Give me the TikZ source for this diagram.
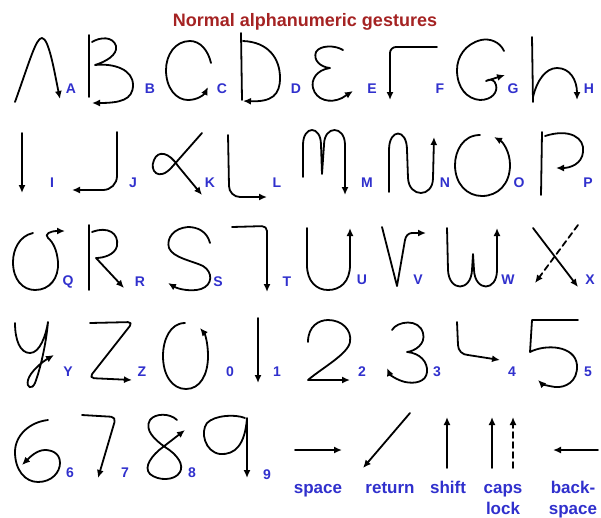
\documentclass[tikz,border=0pt]{standalone}
\usepackage{fontspec}
\setmainfont{Liberation Sans}
\usetikzlibrary{arrows.meta}
\definecolor{lblblue}{RGB}{48,48,205}
\definecolor{titlered}{RGB}{165,35,35}
\begin{document}
\begin{tikzpicture}[x=1pt,y=-1pt,
  stroke/.style={line width=1.8pt, line cap=round, line join=round, -{Latex[length=8pt,width=7pt]}},
  plain/.style={line width=1.8pt, line cap=round},
  lbl/.style={text=lblblue, font=\bfseries\fontsize{14}{14}\selectfont, inner sep=0pt},
  word/.style={text=lblblue, font=\bfseries\fontsize{17}{17}\selectfont, inner sep=0pt},
  ttl/.style={text=titlered, font=\bfseries\fontsize{18}{18}\selectfont, inner sep=0pt}]
\fill[white] (0,0) rectangle (601,517);
\useasboundingbox (0,0) rectangle (601,517);
\node[ttl] (title) at (305,22) {Normal alphanumeric gestures};
% ---- row 1 ----
% A
\draw[stroke] (15,102) .. controls (30,60) and (36,38) .. (42,38) .. controls (49,38) and (55,75) .. (60,99);
% B
\draw[plain] (89,35) -- (89,97);
\draw[stroke] (92,42) .. controls (100,37) and (113,36) .. (116,46) .. controls (118,55) and (105,62) .. (95,65)
  .. controls (115,63) and (133,70) .. (133,85) .. controls (133,100) and (120,103) .. (92,103);
% C
\draw[stroke] (211,63) .. controls (208,50) and (200,41) .. (190,41) .. controls (175,41) and (166,55) .. (166,70)
  .. controls (166,88) and (176,100) .. (188,100) .. controls (197,100) and (204,95) .. (208,87);
% D
\draw[plain] (241,33) -- (242,100);
\draw[stroke] (243,41) .. controls (268,42) and (280,58) .. (280,78) .. controls (280,95) and (272,102) .. (243,101);
% E
\draw[stroke] (343,50) .. controls (335,45) and (320,45) .. (316,52) .. controls (313,60) and (320,67) .. (330,68)
  .. controls (316,70) and (311,80) .. (313,88) .. controls (316,100) and (330,104) .. (342,98) -- (353,91);
% F
\draw[stroke, rounded corners=6pt] (437,47) -- (390,47) -- (390,100);
% G
\draw[stroke] (504,51) .. controls (500,42) and (490,38) .. (481,40) .. controls (465,44) and (457,57) .. (457,70)
  .. controls (457,88) and (467,99) .. (480,100) .. controls (492,100) and (498,92) .. (496,85)
  .. controls (495,80) and (490,78) .. (486,81) -- (505,75);
% H
\draw[plain] (532,37) -- (533,102);
\draw[stroke] (533,97) .. controls (537,80) and (546,68) .. (557,68) .. controls (570,68) and (577,80) .. (577,100);
% ---- row 2 ----
\draw[stroke] (22,133) -- (22,193);
\draw[stroke] (117,132) -- (117,176) to[out=-90,in=0] (103,190) -- (72,190);
\draw[stroke] (202,133) -- (172,167) .. controls (159,182) and (149,171) .. (154,160)
  .. controls (158,150) and (169,152) .. (178,166) -- (202,195);
\draw[stroke] (228,135) -- (229,186) to[out=-90,in=180] (240,197) -- (267,197);
% M
\draw[stroke] (303,177) -- (303,145) .. controls (303,125) and (321,125) .. (321,145) -- (322,174)
  -- (324,145) .. controls (324,125) and (345,125) .. (345,145) -- (345,195);
% N
\draw[stroke] (389,192) -- (389,150) .. controls (389,128) and (407,128) .. (407,150) -- (408,178)
  .. controls (409,198) and (433,198) .. (433,178) -- (434,137);
% O
\draw[stroke] (480,135) .. controls (463,135) and (455,151) .. (455,165) .. controls (455,184) and (467,196) .. (482,196)
  .. controls (498,196) and (510,184) .. (510,165) .. controls (510,152) and (503,142) .. (494,137);
% P
\draw[plain] (542,132) -- (541,195);
\draw[stroke] (545,136) .. controls (570,128) and (585,138) .. (583,152) .. controls (582,164) and (570,168) .. (556,168);
% ---- row 3 ----
% Q
\draw[stroke] (33,233) .. controls (19,236) and (13,250) .. (13,262) .. controls (13,280) and (23,290) .. (35,290)
  .. controls (50,290) and (59,278) .. (58,262) .. controls (57,250) and (53,242) .. (48,238)
  .. controls (44,234) and (50,231) .. (65,231);
% R
\draw[plain] (89,225) -- (89,290);
\draw[stroke] (92,232) .. controls (108,226) and (119,233) .. (117,246) .. controls (115,255) and (103,258) .. (96,258) -- (124,288);
% S
\draw[stroke] (210,243) .. controls (207,231) and (197,227) .. (188,227) .. controls (174,228) and (166,238) .. (169,248)
  .. controls (173,258) and (193,261) .. (203,266) .. controls (213,272) and (213,285) .. (201,289)
  .. controls (191,292) and (178,289) .. (168,283);
% T
\draw[stroke, rounded corners=5pt] (232,227) -- (267,226) -- (267,292);
% U
\draw[stroke] (307,228) -- (307,265) .. controls (307,282) and (317,290) .. (328,290)
  .. controls (340,290) and (350,282) .. (350,265) -- (350,228);
% V
\draw[stroke] (382,227) -- (397,286) -- (405,240) to[out=80,in=180] (412,233) -- (426,233);
% W
\draw[stroke] (447,228) -- (448,270) .. controls (449,292) and (471,292) .. (472,270) -- (473,254)
  -- (474,270) .. controls (475,292) and (497,292) .. (497,270) -- (497,228);
% X
\draw[stroke] (533,228) -- (578,287);
\draw[stroke, dashed, dash pattern=on 6pt off 4pt] (578,225) -- (535,283);
% ---- row 4 ----
% Y
\draw[stroke] (15,323) .. controls (15,340) and (20,353) .. (30,353) .. controls (40,353) and (46,335) .. (48,322)
  .. controls (46,345) and (40,370) .. (35,383) .. controls (32,390) and (26,388) .. (28,380)
  .. controls (30,372) and (42,362) .. (54,355);
% Z
\draw[stroke, rounded corners=5pt] (90,323) -- (133,322) -- (89,378) -- (132,380);
% 0
\draw[stroke] (185,323) .. controls (170,323) and (163,340) .. (163,356) .. controls (163,375) and (172,389) .. (186,389)
  .. controls (200,389) and (208,375) .. (208,356) .. controls (208,343) and (205,334) .. (200,328);
% 1
\draw[stroke] (258,318) -- (258,383);
% 2
\draw[stroke] (308,342) .. controls (308,326) and (319,320) .. (328,320) .. controls (342,320) and (352,330) .. (350,342)
  .. controls (348,354) and (322,368) .. (308,380) -- (350,380);
% 3
\draw[stroke] (392,330) .. controls (397,321) and (419,318) .. (423,333) .. controls (426,344) and (415,351) .. (407,352)
  .. controls (420,353) and (428,362) .. (427,372) .. controls (426,382) and (415,384) .. (405,382)
  .. controls (397,380) and (390,375) .. (387,368);
% 4
\draw[stroke] (457,322) -- (458,345) to[out=-90,in=180] (468,355) -- (500,360);
% 5
\draw[stroke] (578,320) -- (532,320) -- (530,352) .. controls (545,344) and (575,345) .. (577,365)
  .. controls (578,382) and (565,388) .. (555,387) .. controls (548,386) and (542,384) .. (538,380);
% ---- row 5 ----
% 6
\draw[stroke] (48,420) .. controls (30,422) and (15,435) .. (15,452) .. controls (15,470) and (25,482) .. (38,482)
  .. controls (52,482) and (60,472) .. (60,463) .. controls (60,452) and (50,450) .. (45,450)
  .. controls (37,450) and (30,457) .. (22,465);
% 7
\draw[stroke, rounded corners=5pt] (82,415) -- (116,417) -- (98,478);
% 8
\draw[stroke] (177,420) .. controls (170,413) and (155,413) .. (150,420) .. controls (144,430) and (155,440) .. (165,447)
  .. controls (178,455) and (184,465) .. (180,472) .. controls (175,481) and (158,481) .. (150,474)
  .. controls (143,467) and (152,455) .. (163,447) -- (185,430);
% 9
\draw[stroke] (245,418) .. controls (235,414) and (215,415) .. (207,423) .. controls (200,432) and (205,452) .. (220,454)
  .. controls (235,455) and (245,445) .. (247,418) -- (247,478);
% specials
\draw[stroke] (295,450) -- (342,450);
\draw[stroke] (410,413) -- (363,468);
\draw[stroke] (447,468) -- (447,417);
\draw[stroke] (492,468) -- (492,417);
\draw[stroke, dashed, dash pattern=on 6pt off 4pt] (513,468) -- (513,417);
\draw[stroke] (598,450) -- (553,450);
% ---- labels ----
\node[lbl] (lA) at (71,89) {A};
\node[lbl] (lB) at (150,89) {B};
\node[lbl] (lC) at (222,89) {C};
\node[lbl] (lD) at (296,89) {D};
\node[lbl] (lE) at (372,89) {E};
\node[lbl] (lF) at (440,89) {F};
\node[lbl] (lG) at (513,89) {G};
\node[lbl] (lH) at (589,89) {H};
\node[lbl] (lI) at (52,183) {I};
\node[lbl] (lJ) at (133,183) {J};
\node[lbl] (lK) at (210,183) {K};
\node[lbl] (lL) at (277,183) {L};
\node[lbl] (lM) at (367,183) {M};
\node[lbl] (lN) at (445,183) {N};
\node[lbl] (lO) at (519,183) {O};
\node[lbl] (lP) at (588,183) {P};
\node[lbl] (lQ) at (68,282) {Q};
\node[lbl] (lR) at (140,282) {R};
\node[lbl] (lS) at (218,282) {S};
\node[lbl] (lT) at (287,282) {T};
\node[lbl] (lU) at (362,280) {U};
\node[lbl] (lV) at (418,280) {V};
\node[lbl] (lW) at (508,280) {W};
\node[lbl] (lX) at (590,280) {X};
\node[lbl] (lY) at (68,372) {Y};
\node[lbl] (lZ) at (142,372) {Z};
\node[lbl] (l0) at (230,372) {0};
\node[lbl] (l1) at (277,372) {1};
\node[lbl] (l2) at (362,372) {2};
\node[lbl] (l3) at (437,372) {3};
\node[lbl] (l4) at (512,372) {4};
\node[lbl] (l5) at (588,372) {5};
\node[lbl] (l6) at (70,473) {6};
\node[lbl] (l7) at (125,473) {7};
\node[lbl] (l8) at (192,473) {8};
\node[lbl] (l9) at (267,475) {9};
\node[word, anchor=base] (wspace) at (318,493) {space};
\node[word, anchor=base] (wreturn) at (390,493) {return};
\node[word, anchor=base] (wshift) at (448,493) {shift};
\node[word, anchor=base] (wcaps) at (503,493) {caps};
\node[word, anchor=base] (wlock) at (503,514) {lock};
\node[word, anchor=base] (wback) at (573,493) {back-};
\node[word, anchor=base] (wspace2) at (573,514) {space};
\end{tikzpicture}
\end{document}
